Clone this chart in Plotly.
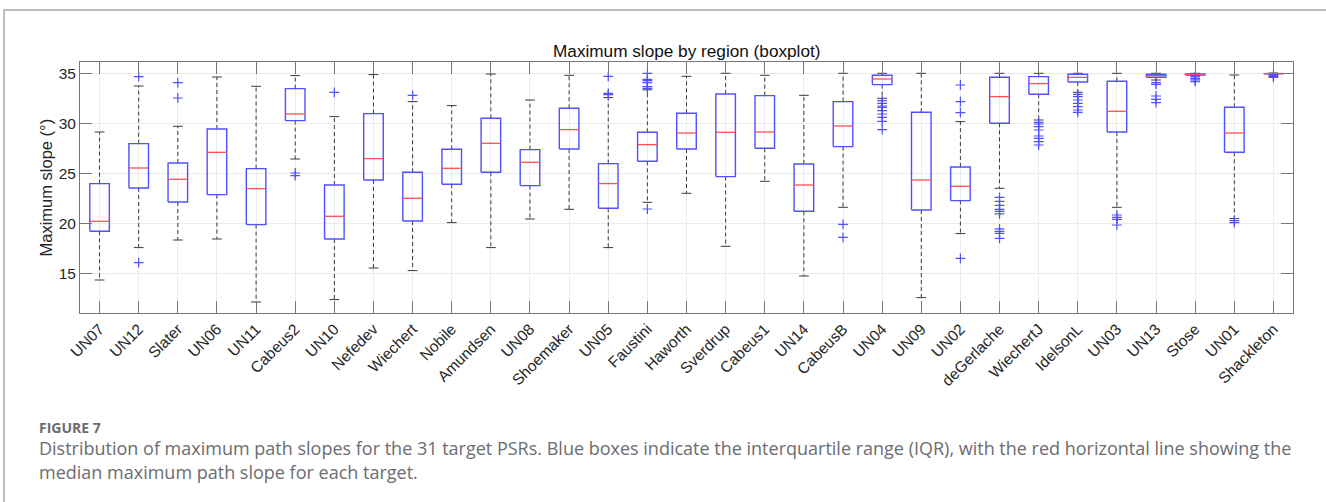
import plotly.graph_objects as go

categories = ["UN07", "UN12", "Slater", "UN06", "UN11", "Cabeus2", "UN10", "Nefedev",
              "Wiechert", "Nobile", "Amundsen", "UN08", "Shoemaker", "UN05", "Faustini",
              "Haworth", "Sverdrup", "Cabeus1", "UN14", "CabeusB", "UN04", "UN09", "UN02",
              "deGerlache", "WiechertJ", "IdelsonL", "UN03", "UN13", "Stose", "UN01", "Shackleton"]

lower_whisker = [14.33, 17.57, 18.33, 18.43, 12.13, 26.43, 12.37, 15.53, 15.27, 20.07, 17.57,
                 20.43, 21.4, 17.57, 22.1, 23.0, 17.7, 24.2, 14.73, 21.6, 32.5, 12.57, 18.97,
                 23.5, 30.33, 33.1, 21.6, 34.33, 34.75, 20.47, 34.9]
q1 = [19.2, 23.53, 22.13, 22.87, 19.87, 30.27, 18.43, 24.33, 20.23, 23.9, 25.1,
      23.77, 27.43, 21.5, 26.2, 27.43, 24.67, 27.5, 21.2, 27.67, 33.87, 21.33, 22.27,
      30.0, 32.9, 34.13, 29.13, 34.6, 34.82, 27.1, 34.95]
median = [20.2, 25.53, 24.4, 27.1, 23.47, 30.93, 20.7, 26.47, 22.5, 25.5, 28.0,
          26.1, 29.37, 23.97, 27.87, 29.03, 29.1, 29.13, 23.83, 29.73, 34.43, 24.33, 23.7,
          32.67, 33.97, 34.6, 31.2, 34.77, 34.88, 29.03, 34.98]
q3 = [23.97, 27.97, 26.03, 29.43, 25.47, 33.47, 23.83, 30.97, 25.1, 27.4, 30.5,
      27.37, 31.5, 25.97, 29.1, 31.0, 32.93, 32.77, 25.93, 32.17, 34.8, 31.1, 25.63,
      34.6, 34.67, 34.9, 34.2, 34.9, 34.93, 31.6, 35.0]
upper_whisker = [29.13, 33.73, 29.7, 34.63, 33.7, 34.77, 30.67, 34.87, 32.17, 31.77, 34.93,
                 32.33, 34.8, 32.57, 33.35, 34.7, 35.0, 34.8, 32.8, 35.0, 35.0, 35.0, 30.17,
                 35.0, 35.0, 35.0, 35.0, 35.0, 35.0, 34.83, 35.03]
outliers = [
    [], [34.67, 16.07], [34.07, 32.53], [], [], [25.03, 24.77], [33.1], [], [32.8], [], [],
    [], [], [34.7, 33.0, 32.87], [35.0, 34.4, 34.27, 34.07, 33.67, 33.5, 21.43],
    [], [], [], [], [19.9, 18.6],
    [32.27, 32.0, 31.73, 31.6, 31.27, 30.93, 30.6, 30.2, 29.37],
    [], [33.83, 32.17, 31.07, 16.5],
    [22.6, 22.2, 21.8, 21.4, 21.2, 20.95, 19.45, 19.2, 19.0, 18.5],
    [30.1, 29.93, 29.67, 29.33, 28.73, 28.5, 28.17, 27.83],
    [32.9, 32.67, 32.33, 32.0, 31.67, 31.33, 31.1],
    [20.83, 20.6, 20.4, 19.83],
    [34.07, 33.9, 32.73, 32.4, 32.07],
    [34.67, 34.5, 34.35, 34.17],
    [20.27, 20.07],
    [34.8, 34.7, 34.6],
]

y_ticks = [15, 20, 25, 30, 35]
title_text = "Maximum slope by region (boxplot)"
ylabel_text = "Maximum slope (°)"
fig_label = "FIGURE 7"
caption_1 = ("Distribution of maximum path slopes for the 31 target PSRs. Blue boxes indicate the "
             "interquartile range (IQR), with the red horizontal line showing the")
caption_2 = "median maximum path slope for each target."

BW = 0.25   # half box width
CW = 0.125  # half cap width
BLUE = "rgb(80,80,255)"
RED = "rgb(255,80,80)"

xs = list(range(1, len(categories) + 1))

wx, wy, cx, cy, bx, by, mx, my, ox, oy = [], [], [], [], [], [], [], [], [], []
for i, x in enumerate(xs):
    wx += [x, x, None, x, x, None]
    wy += [q3[i], upper_whisker[i], None, q1[i], lower_whisker[i], None]
    cx += [x - CW, x + CW, None, x - CW, x + CW, None]
    cy += [upper_whisker[i], upper_whisker[i], None, lower_whisker[i], lower_whisker[i], None]
    bx += [x - BW, x + BW, x + BW, x - BW, x - BW, None]
    by += [q1[i], q1[i], q3[i], q3[i], q1[i], None]
    mx += [x - BW, x + BW, None]
    my += [median[i], median[i], None]
    for v in outliers[i]:
        ox.append(x)
        oy.append(v)

fig = go.Figure()
fig.add_trace(go.Scatter(x=wx, y=wy, mode="lines", line=dict(color="#3a3a3a", width=1, dash="4px,3px"),
                         hoverinfo="skip", showlegend=False))
fig.add_trace(go.Scatter(x=cx, y=cy, mode="lines", line=dict(color="#3a3a3a", width=1),
                         hoverinfo="skip", showlegend=False))
fig.add_trace(go.Scatter(x=bx, y=by, mode="lines", line=dict(color=BLUE, width=1.4),
                         hoverinfo="skip", showlegend=False))
fig.add_trace(go.Scatter(x=mx, y=my, mode="lines", line=dict(color=RED, width=1.3),
                         hoverinfo="skip", showlegend=False))
fig.add_trace(go.Scatter(x=ox, y=oy, mode="markers",
                         marker=dict(symbol="cross-thin", size=7, line=dict(color=BLUE, width=1.2)),
                         hoverinfo="skip", showlegend=False))

L, R, T, B = 80, 33, 62, 189
PW, PH = 1326 - L - R, 502 - T - B


def px(xp):
    return (xp - L) / PW


def py(yp):
    return (502 - B - yp) / PH


AX_FONT = "Liberation Sans, Arial, Helvetica, sans-serif"
CAP_FONT = "Open Sans, Lato, sans-serif"
CAP_COLOR = "#6c6c72"

fig.update_layout(
    width=1326, height=502, autosize=False,
    margin=dict(l=L, r=R, t=T, b=B),
    paper_bgcolor="white", plot_bgcolor="white",
    font=dict(family=AX_FONT, color="#262626"),
    xaxis=dict(range=[0.5, 31.5], tickmode="array", tickvals=xs, ticktext=categories,
               tickangle=-45, ticks="inside", ticklen=12, tickcolor="#777777",
               showline=True, linecolor="#777777", linewidth=1, mirror="ticks",
               showgrid=True, gridcolor="#ebebeb", gridwidth=1, zeroline=False,
               tickfont=dict(size=15.5, family=AX_FONT, color="#262626")),
    yaxis=dict(range=[11.03, 36.13], tickmode="array", tickvals=y_ticks,
               ticks="inside", ticklen=12, tickcolor="#777777",
               showline=True, linecolor="#777777", linewidth=1, mirror="ticks",
               showgrid=True, gridcolor="#ebebeb", gridwidth=1, zeroline=False,
               tickfont=dict(size=15.5, family=AX_FONT, color="#262626")),
    shapes=[dict(type="rect", xref="paper", yref="paper",
                 x0=px(4), x1=px(1340), y0=py(10), y1=py(520),
                 line=dict(color="#a8a8a8", width=1.5), fillcolor="rgba(0,0,0,0)", layer="below")],
    annotations=[
        dict(text=title_text, xref="paper", yref="paper", x=0.5, y=py(51), xanchor="center",
             yanchor="middle", showarrow=False, font=dict(size=17.2, family=AX_FONT, color="#111111")),
        dict(text=ylabel_text, xref="paper", yref="paper", x=px(45), y=0.5, xanchor="center",
             yanchor="middle", textangle=-90, showarrow=False,
             font=dict(size=16.5, family=AX_FONT, color="#262626")),
        dict(text="<b>" + fig_label + "</b>", xref="paper", yref="paper", x=px(37), y=py(427),
             xanchor="left", yanchor="middle", showarrow=False,
             font=dict(size=14, family=CAP_FONT, color=CAP_COLOR)),
        dict(text=caption_1, xref="paper", yref="paper", x=px(37), y=py(448),
             xanchor="left", yanchor="middle", showarrow=False,
             font=dict(size=18, family=CAP_FONT, color=CAP_COLOR)),
        dict(text=caption_2, xref="paper", yref="paper", x=px(37), y=py(472),
             xanchor="left", yanchor="middle", showarrow=False,
             font=dict(size=18, family=CAP_FONT, color=CAP_COLOR)),
    ],
)

fig.write_html("out.html")
